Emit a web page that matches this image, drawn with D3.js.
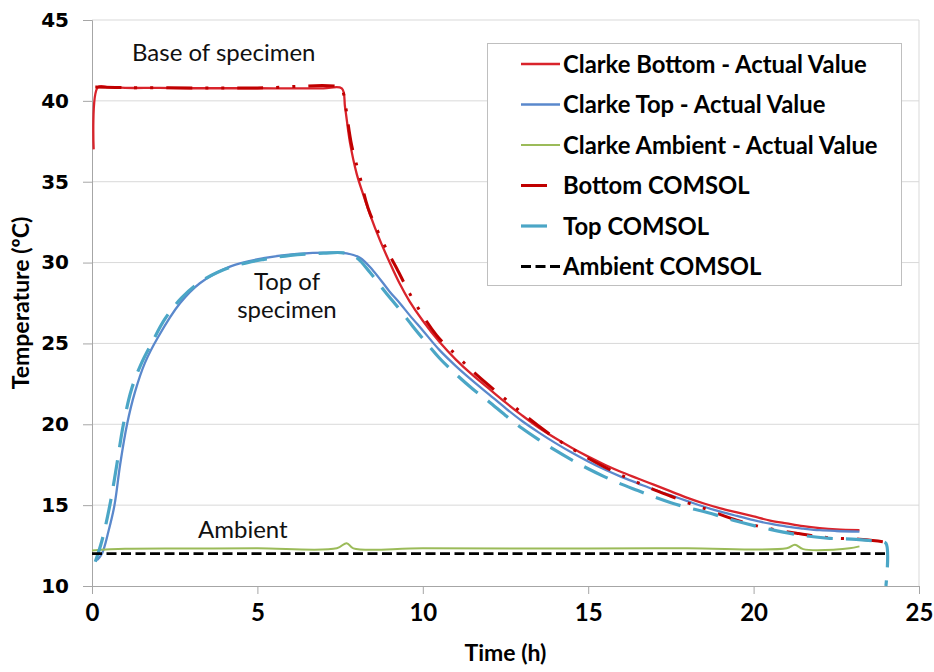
<!DOCTYPE html>
<html>
<head>
<meta charset="utf-8">
<script src="https://cdn.jsdelivr.net/npm/d3@7"></script>
<style>
  html, body { margin: 0; padding: 0; background: #fff; }
  svg { display: block; }
</style>
</head>
<body>
<svg id="chart" width="934" height="672"></svg>
<script>
// Measured temperatures, [time (h), temperature (°C)]
const clarkeBottom = [
  [0.05, 37.0], [0.18, 40.85], [0.5, 40.85], [1, 40.8], [2, 40.8], [3, 40.78],
  [4, 40.78], [5, 40.78], [6, 40.77], [7, 40.77], [7.55, 40.77], [7.65, 39.6],
  [7.8, 37.4], [8.0, 35.5], [8.2, 34.2], [8.4, 33.0], [8.7, 31.4], [9.0, 30.0],
  [9.3, 28.7], [9.6, 27.6], [10.0, 26.4], [10.5, 25.1], [11.0, 24.0], [11.5, 23.05],
  [12.0, 22.2], [12.5, 21.35], [13.0, 20.55], [13.5, 19.8], [14.0, 19.15], [14.5, 18.55],
  [15.0, 18.0], [15.5, 17.5], [16.0, 17.05], [16.5, 16.65], [17.0, 16.25], [17.5, 15.85],
  [18.0, 15.45], [18.5, 15.1], [19.0, 14.8], [19.5, 14.55], [20.0, 14.3], [20.5, 14.05],
  [21.0, 13.87], [21.5, 13.7], [22.0, 13.58], [22.5, 13.5], [23.2, 13.45]
];
const clarkeTop = [
  [0.15, 11.6], [0.3, 12.0], [0.5, 13.4], [0.68, 15.0], [0.85, 17.5], [1.06, 20.0],
  [1.3, 22.0], [1.6, 23.8], [2.0, 25.4], [2.66, 27.48], [3.26, 28.72], [4.17, 29.75],
  [5.18, 30.27], [6.19, 30.53], [7.19, 30.61], [7.7, 30.57], [8.1, 30.3], [8.5, 29.5],
  [9.0, 28.2], [9.3, 27.5], [9.6, 26.75], [10.0, 25.8], [10.5, 24.6], [11.0, 23.6],
  [11.5, 22.7], [12.0, 21.85], [12.5, 21.0], [13.0, 20.2], [13.5, 19.5], [14.0, 18.85],
  [14.5, 18.25], [15.0, 17.7], [15.5, 17.2], [16.0, 16.75], [16.5, 16.35], [17.0, 15.95],
  [17.5, 15.6], [18.0, 15.25], [18.5, 14.9], [19.0, 14.6], [19.5, 14.33], [20.0, 14.07],
  [20.5, 13.85], [21.0, 13.67], [21.5, 13.55], [22.0, 13.45], [22.5, 13.4], [23.2, 13.36]
];
const clarkeAmbient = [
  [0, 12.2], [1, 12.3], [3, 12.32], [5, 12.33], [7.4, 12.33], [7.7, 12.65], [7.9, 12.33],
  [10, 12.33], [15, 12.32], [18, 12.33], [21.0, 12.33], [21.25, 12.55], [21.5, 12.28],
  [22.5, 12.25], [22.9, 12.33], [23.2, 12.45]
];
// Simulated temperatures
const bottomComsol = [
  [0.1, 40.85], [1, 40.82], [3, 40.8], [5, 40.8], [7.55, 40.8], [7.6, 40.5],
  [7.85, 37.25], [8.1, 35.3], [8.35, 33.35], [8.81, 31.2], [9.21, 29.65], [9.71, 27.7],
  [10.42, 25.5], [11.0, 24.3], [11.5, 23.3], [12.0, 22.4], [12.5, 21.55], [13.0, 20.7],
  [13.5, 19.9], [14.0, 19.15], [14.5, 18.5], [15.0, 17.9], [15.5, 17.35], [16.0, 16.85],
  [16.5, 16.4], [17.0, 15.95], [17.5, 15.55], [18.0, 15.15], [18.5, 14.8], [19.3, 14.2],
  [20.2, 13.67], [21.3, 13.26], [22.2, 13.0], [23.2, 12.89], [23.9, 12.74], [24.0, 12.7]
];
const topComsol = [
  [0.1, 11.5], [0.3, 12.8], [0.54, 15.0], [0.75, 17.5], [0.95, 20.0], [1.2, 22.2],
  [1.5, 23.8], [1.8, 25.0], [2.2, 26.5], [2.7, 27.8], [3.2, 28.7], [3.8, 29.4],
  [4.5, 29.9], [5.2, 30.2], [6.0, 30.45], [7.0, 30.58], [7.6, 30.6], [8.0, 30.3],
  [8.4, 29.4], [8.86, 28.2], [9.3, 27.1], [9.7, 26.05], [10.0, 25.3], [10.5, 24.1],
  [11.0, 23.1], [11.5, 22.2], [12.0, 21.4], [12.5, 20.55], [13.0, 19.75], [13.5, 19.05],
  [14.0, 18.4], [14.5, 17.8], [15.0, 17.25], [15.5, 16.75], [16.0, 16.3], [16.5, 15.9],
  [17.0, 15.5], [17.5, 15.15], [18.0, 14.85], [18.6, 14.55], [19.5, 14.0], [20.5, 13.5],
  [21.4, 13.15], [22.3, 12.95], [23.1, 12.88], [23.8, 12.74], [24.0, 12.64], [24.0, 10.0]
];
const ambientComsol = [[0, 12.0], [24, 12.0]];

const xTicks = [0, 5, 10, 15, 20, 25];
const yTicks = [10, 15, 20, 25, 30, 35, 40, 45];
const legendLabels = [
  "Clarke Bottom - Actual Value", "Clarke Top - Actual Value", "Clarke Ambient - Actual Value",
  "Bottom COMSOL", "Top COMSOL", "Ambient COMSOL"
];

const svg = d3.select("#chart");
const plot = { left: 92, right: 919, top: 20, bottom: 586 };

const x = d3.scaleLinear().domain([0, 25]).range([plot.left, plot.right]);
const y = d3.scaleLinear().domain([10, 45]).range([plot.bottom, plot.top]);

// horizontal gridlines
svg.append("g")
  .selectAll("line")
  .data(yTicks.filter(v => v > 10))
  .join("line")
  .attr("x1", plot.left).attr("x2", plot.right)
  .attr("y1", d => y(d)).attr("y2", d => y(d))
  .attr("stroke", "#d9d9d9").attr("stroke-width", 1);

// right edge of the plot area
svg.append("line")
  .attr("x1", plot.right).attr("x2", plot.right)
  .attr("y1", plot.top).attr("y2", plot.bottom)
  .attr("stroke", "#d9d9d9").attr("stroke-width", 1);

// axes
const xAxis = d3.axisBottom(x).tickValues(xTicks).tickSize(8).tickPadding(10).tickFormat(d3.format("d"));
const yAxis = d3.axisLeft(y).tickValues(yTicks).tickSize(9).tickPadding(14).tickFormat(d3.format("d"));

const gx = svg.append("g").attr("transform", `translate(0,${plot.bottom})`).call(xAxis);
const gy = svg.append("g").attr("transform", `translate(${plot.left},0)`).call(yAxis);

[gx, gy].forEach(g => {
  g.select(".domain").attr("stroke", "#a6a6a6").attr("stroke-width", 1);
  g.selectAll(".tick line").attr("stroke", "#a6a6a6");
  g.selectAll(".tick text").attr("fill", "#000");
});
gx.selectAll(".tick text")
  .attr("font-family", "Lato, sans-serif").attr("font-weight", 700).attr("font-size", 24);
gy.selectAll(".tick text")
  .attr("font-family", "'DejaVu Sans', sans-serif").attr("font-weight", 700).attr("font-size", 20);

// axis titles
svg.append("text")
  .attr("x", (plot.left + plot.right) / 2).attr("y", 661)
  .attr("text-anchor", "middle")
  .attr("font-family", "Lato, sans-serif").attr("font-weight", 700).attr("font-size", 23)
  .text("Time (h)");
svg.append("text")
  .attr("transform", `translate(29,${(plot.top + plot.bottom) / 2}) rotate(-90)`)
  .attr("text-anchor", "middle")
  .attr("font-family", "Lato, sans-serif").attr("font-weight", 700).attr("font-size", 23)
  .text("Temperature (ºC)");

// series
const line = d3.line()
  .x(d => x(d[0])).y(d => y(d[1]))
  .curve(d3.curveCatmullRom.alpha(0.5));

const series = [
  { data: clarkeBottom, color: "#d9232b", width: 2.3, dash: null },
  { data: clarkeTop, color: "#5a88cc", width: 2.3, dash: null },
  { data: clarkeAmbient, color: "#9bbb59", width: 2.0, dash: null },
  { data: bottomComsol, color: "#c00000", width: 3.0, dash: "26,13,3,13,3,13" },
  { data: topComsol, color: "#4ba6c6", width: 3.2, dash: "26,13" },
  { data: ambientComsol, color: "#000000", width: 2.8, dash: "10,4.5" }
];

svg.append("g")
  .selectAll("path")
  .data(series)
  .join("path")
  .attr("d", d => line(d.data))
  .attr("fill", "none")
  .attr("stroke", d => d.color)
  .attr("stroke-width", d => d.width)
  .attr("stroke-dasharray", d => d.dash)
  .attr("stroke-linejoin", "round");

// annotations
const note = (txt, xx, yy, anchor) => svg.append("text")
  .attr("x", xx).attr("y", yy).attr("text-anchor", anchor || "start")
  .attr("font-family", "Lato, sans-serif").attr("font-size", 24).attr("fill", "#111")
  .text(txt);
note("Base of specimen", 132, 61);
note("Top of", 287, 290, "middle");
note("specimen", 287, 318, "middle");
note("Ambient", 198, 538);

// legend
const lg = svg.append("g");
lg.append("rect")
  .attr("x", 487.5).attr("y", 43.5).attr("width", 414).attr("height", 242)
  .attr("fill", "#fff").attr("stroke", "#bfbfbf").attr("stroke-width", 1);
const rowY = i => 64 + i * 40.5;
const items = lg.selectAll("g.item")
  .data(series.map((s, i) => ({ ...s, label: legendLabels[i] })))
  .join("g").attr("class", "item")
  .attr("transform", (d, i) => `translate(0,${rowY(i)})`);
items.append("line")
  .attr("x1", 521).attr("x2", 560).attr("y1", 0).attr("y2", 0)
  .attr("stroke", d => d.color)
  .attr("stroke-width", d => d.width)
  .attr("stroke-dasharray", d => d.dash);
items.append("text")
  .attr("x", 563).attr("y", 8.5)
  .attr("font-family", "Lato, sans-serif").attr("font-weight", 700).attr("font-size", 23.8)
  .attr("fill", "#000")
  .text(d => d.label);
</script>
</body>
</html>
